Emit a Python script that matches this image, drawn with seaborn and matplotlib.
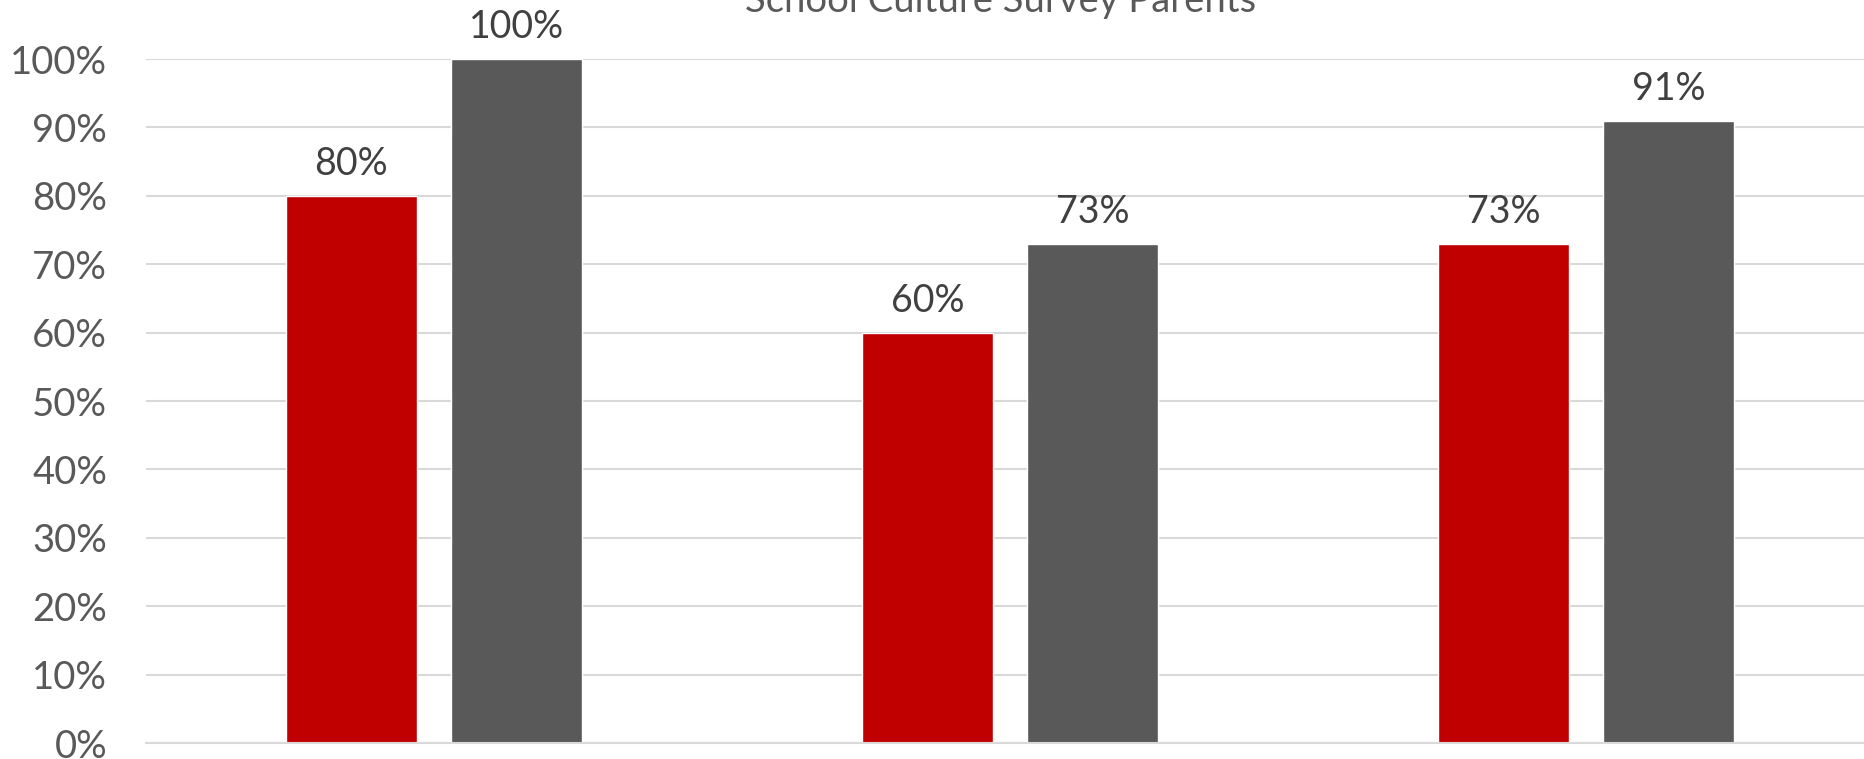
import numpy as np
import pandas as pd
import matplotlib
matplotlib.use("Agg")
import matplotlib.pyplot as plt
import seaborn as sns

# data
questions = ["Q1", "Q2", "Q3"]
groups = ["Group A", "Group B"]
group_a = [0.80, 0.60, 0.73]
group_b = [1.00, 0.73, 0.91]
title = "School Culture Survey Parents"

red = "#C00000"
gray = "#595959"
grid_col = "#D9D9D9"
text_col = "#595959"

df = pd.DataFrame({
    "question": questions * 2,
    "group": [groups[0]] * 3 + [groups[1]] * 3,
    "value": group_a + group_b,
})

sns.set_style("white")
plt.rcParams["font.family"] = ["Lato", "DejaVu Sans"]

W, H = 1864, 759
fig = plt.figure(figsize=(W / 100, H / 100), dpi=100)
# axes runs a bit past the right edge like the slide crop
ax = fig.add_axes([146 / W, 16 / H, 1728 / W, 684 / H])

sns.barplot(data=df, x="question", y="value", hue="group",
            palette=[red, gray], width=0.574, gap=0.21, saturation=1,
            legend=False, ax=ax)

for cont in ax.containers:
    ax.bar_label(cont, labels=[f"{v:.0%}" for v in cont.datavalues],
                 padding=10, fontsize=27, color="#404040")

ax.set_ylim(0, 1)
ax.set_xlim(-0.5, 2.5)
ax.set_yticks(np.arange(0, 1.01, 0.1))
ax.set_yticklabels([f"{int(round(t * 100))}%" for t in np.arange(0, 1.01, 0.1)])
ax.tick_params(axis="y", length=0, pad=28, labelsize=27.5, labelcolor=text_col)
ax.set_xticks([])
ax.set_xlabel("")
ax.set_ylabel("")
ax.yaxis.grid(True, color=grid_col, lw=1.5)
ax.set_axisbelow(True)
for s in ["top", "right", "left"]:
    ax.spines[s].set_visible(False)
ax.spines["bottom"].set_color(grid_col)
ax.spines["bottom"].set_linewidth(1.5)

fig.text(1001 / W, 1 - 12 / H, title, ha="center", va="baseline",
         fontsize=27.5, color=text_col)

fig.savefig("out.png", dpi=100)
